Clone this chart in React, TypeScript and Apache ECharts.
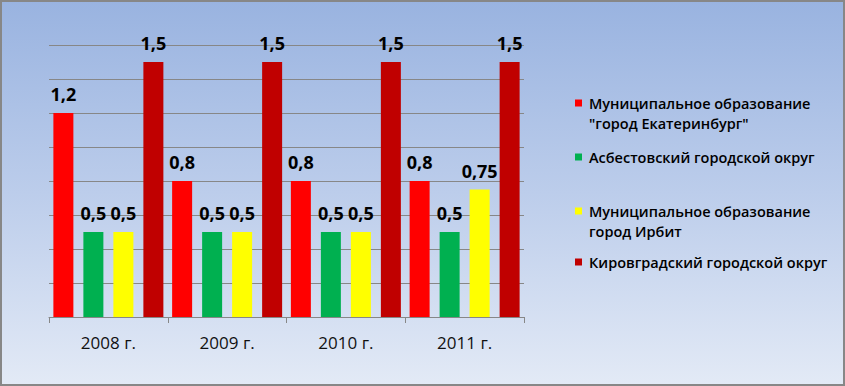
import React, { useEffect, useRef } from "react";
import * as echarts from "echarts";

const categories = ["2008 г.", "2009 г.", "2010 г.", "2011 г."];
const seriesNames = [
  "Муниципальное образование\n\"город Екатеринбург\"",
  "Асбестовский городской округ",
  "Муниципальное образование\nгород Ирбит",
  "Кировградский городской округ",
];
const ekaterinburg = [1.2, 0.8, 0.8, 0.8];
const asbest = [0.5, 0.5, 0.5, 0.5];
const irbit = [0.5, 0.5, 0.5, 0.75];
const kirovgrad = [1.5, 1.5, 1.5, 1.5];
const seriesValues = [ekaterinburg, asbest, irbit, kirovgrad];
const seriesColors = ["#FF0000", "#00B050", "#FFFF00", "#C00000"];
const yMin = 0;
const yMax = 1.6;
const yInterval = 0.2;

const legendTops = [93, 147, 201, 252];

export default function App() {
  const ref = useRef<HTMLDivElement>(null);
  useEffect(() => {
    document.body.style.margin = "0";
    const chart = echarts.init(ref.current!, null, { renderer: "svg" });
    const font = "'Open Sans', 'Noto Sans', sans-serif";
    chart.setOption({
      animation: false,
      backgroundColor: {
        type: "linear",
        x: 0,
        y: 0,
        x2: 0,
        y2: 1,
        colorStops: [
          { offset: 0, color: "#99b3e0" },
          { offset: 0.5, color: "#bccdeb" },
          { offset: 1, color: "#e3eaf6" },
        ],
      },
      grid: { left: 49, right: 321, top: 45, bottom: 69 },
      legend: seriesNames.map((name, i) => {
        const twoLine = name.indexOf("\n") >= 0;
        return {
          data: [name],
          left: 575,
          top: legendTops[i],
          orient: "vertical",
          padding: 0,
          icon: twoLine
            ? "path://M0 0h7v7h-7z M0 27h0.01v0.01h-0.01z"
            : "rect",
          itemWidth: 7,
          itemHeight: twoLine ? 27 : 7,
          selectedMode: false,
          textStyle: {
            fontFamily: font,
            fontSize: 14.5,
            fontWeight: 600,
            color: "#000",
            lineHeight: 20,
            padding: [0, 0, 0, 2],
          },
        };
      }),
      xAxis: {
        type: "category",
        data: categories,
        axisLine: { lineStyle: { color: "#878787", width: 1 } },
        axisTick: { show: true, length: 6, lineStyle: { color: "#878787" } },
        axisLabel: {
          fontFamily: font,
          fontSize: 17,
          color: "#111",
          margin: 17,
        },
      },
      yAxis: {
        type: "value",
        min: yMin,
        max: yMax,
        interval: yInterval,
        axisLabel: { show: false },
        axisLine: { show: false },
        axisTick: { show: false },
        splitLine: { lineStyle: { color: "#878787", width: 1 } },
      },
      series: seriesNames.map((name, i) => ({
        type: "bar",
        name,
        data: seriesValues[i],
        barWidth: 20,
        barGap: "50%",
        itemStyle: { color: seriesColors[i] },
        label: {
          show: true,
          position: "top",
          distance: 10,
          fontFamily: font,
          fontSize: 18,
          fontWeight: "bold",
          color: "#000",
          formatter: (p: any) => String(p.value).replace(".", ","),
        },
      })),
    });
    return () => chart.dispose();
  }, []);
  return (
    <div style={{ position: "relative", width: 845, height: 386 }}>
      <div ref={ref} style={{ width: 845, height: 386 }} />
      <div
        style={{
          position: "absolute",
          left: 0,
          top: 0,
          width: 845,
          height: 386,
          boxSizing: "border-box",
          border: "2px solid #878787",
          pointerEvents: "none",
        }}
      />
    </div>
  );
}
